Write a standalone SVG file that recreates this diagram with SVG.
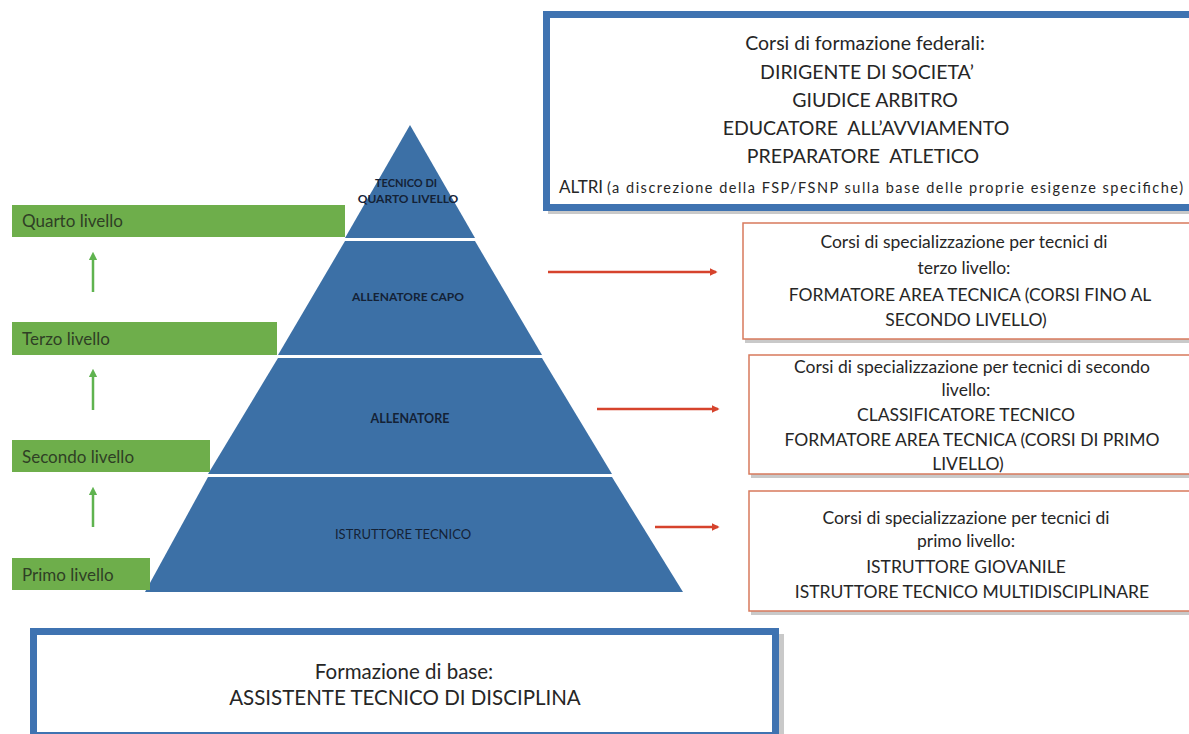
<svg xmlns="http://www.w3.org/2000/svg" width="1189" height="734" viewBox="0 0 1189 734">
<defs>
<style>
.t{font-family:Lato,"Liberation Sans",sans-serif;fill:#262626;text-anchor:middle;white-space:pre}
.big{font-size:19.5px}
.mid{font-size:17.5px}
.sm{font-size:14.5px}
.lvl{font-family:Lato,"Liberation Sans",sans-serif;font-size:17px;fill:#2f3f25}
.pyr{font-family:Lato,"Liberation Sans",sans-serif;font-size:12px;font-weight:bold;fill:#142236;text-anchor:middle}
.green{fill:#6eae4b}
.tier{fill:#3c70a6}
.bluebox{fill:#fff;stroke:#3f73b1;stroke-width:7}
.redbox{fill:#fff;stroke:#d77a5c;stroke-width:1.5}
.shadow{fill:#c9c9c9}
.garr{stroke:#5fb34f;stroke-width:2.5;fill:none}
.rarr{stroke:#d6432c;stroke-width:2.5;fill:none}
</style>
<marker id="ga" viewBox="0 0 10 10" refX="5" refY="5" markerWidth="3.4" markerHeight="3.4" orient="auto"><path d="M0,0L10,5L0,10z" fill="#5fb34f"/></marker>
<marker id="ra" viewBox="0 0 10 10" refX="8" refY="5" markerWidth="3.2" markerHeight="3.2" orient="auto"><path d="M0,0L10,5L0,10z" fill="#d6432c"/></marker>
</defs>
<rect width="1189" height="734" fill="#fff"/>

<g id="top-box">
<rect class="shadow" x="548" y="18" width="650" height="196"/>
<rect class="bluebox" x="546.5" y="14.5" width="650" height="193"/>
<text class="t big" x="865" y="50">Corsi di formazione federali:</text>
<text class="t big" x="867" y="79">DIRIGENTE DI SOCIETA’</text>
<text class="t big" x="875" y="107">GIUDICE ARBITRO</text>
<text class="t big" x="866" y="135">EDUCATORE  ALL’AVVIAMENTO</text>
<text class="t big" x="863" y="163">PREPARATORE  ATLETICO</text>
<text class="t" x="559" y="193" style="text-anchor:start;font-size:17px">ALTRI</text>
<text class="t sm" x="607" y="193" style="text-anchor:start" textLength="576" lengthAdjust="spacing">(a discrezione della FSP/FSNP sulla base delle proprie esigenze specifiche)</text>
</g>

<g id="pyramid">
<polygon class="tier" points="410,125 475,238 345,238"/>
<polygon class="tier" points="345,241 475,241 542,355 278,355"/>
<polygon class="tier" points="278,358 542,358 612,474 208,474"/>
<polygon class="tier" points="208,477 612,477 683,592 145,592"/>
<text class="pyr" x="406" y="187" style="font-size:11px">TECNICO DI</text>
<text class="pyr" x="408" y="203">QUARTO LIVELLO</text>
<text class="pyr" x="408" y="301">ALLENATORE  CAPO</text>
<text class="pyr" x="410" y="423" style="font-size:12.5px">ALLENATORE</text>
<text class="pyr" x="403" y="539" style="font-weight:normal;font-size:13px">ISTRUTTORE TECNICO</text>
</g>

<g id="level-4"><rect class="green" x="12" y="205" width="333" height="32"/><text class="lvl" x="22" y="227">Quarto livello</text></g>
<g id="level-3"><rect class="green" x="12" y="322" width="265" height="33"/><text class="lvl" x="22" y="345">Terzo livello</text></g>
<g id="level-2"><rect class="green" x="12" y="440" width="198" height="32"/><text class="lvl" x="22" y="463">Secondo livello</text></g>
<g id="level-1"><rect class="green" x="12" y="558" width="138" height="32"/><text class="lvl" x="22" y="581">Primo livello</text></g>

<g id="spec-3">
<rect class="shadow" x="745" y="226" width="450" height="117"/>
<rect class="redbox" x="743" y="223" width="450" height="116"/>
<text class="t mid" x="964" y="248">Corsi di specializzazione per tecnici di</text>
<text class="t mid" x="964" y="274">terzo livello:</text>
<text class="t mid" x="970" y="301">FORMATORE AREA TECNICA (CORSI FINO AL</text>
<text class="t mid" x="966" y="326">SECONDO LIVELLO)</text>
</g>

<g id="spec-2">
<rect class="shadow" x="751" y="358" width="444" height="120"/>
<rect class="redbox" x="749" y="355" width="444" height="119"/>
<text class="t mid" x="972" y="373">Corsi di specializzazione per tecnici di secondo</text>
<text class="t mid" x="966" y="396">livello:</text>
<text class="t mid" x="966" y="421">CLASSIFICATORE TECNICO</text>
<text class="t mid" x="972" y="446">FORMATORE AREA TECNICA (CORSI DI PRIMO</text>
<text class="t mid" x="968" y="470">LIVELLO)</text>
</g>

<g id="spec-1">
<rect class="shadow" x="751" y="494" width="444" height="121"/>
<rect class="redbox" x="749" y="491" width="444" height="120"/>
<text class="t mid" x="966" y="524">Corsi di specializzazione per tecnici di</text>
<text class="t mid" x="966" y="547">primo livello:</text>
<text class="t mid" x="966" y="573">ISTRUTTORE GIOVANILE</text>
<text class="t mid" x="972" y="598">ISTRUTTORE TECNICO MULTIDISCIPLINARE</text>
</g>

<g id="base-box">
<rect class="shadow" x="36" y="634" width="748" height="106"/>
<rect class="bluebox" x="33.5" y="631.5" width="742" height="104"/>
<text class="t" x="404" y="679" style="font-size:20.5px">Formazione di base:</text>
<text class="t" x="405" y="705" style="font-size:20.5px">ASSISTENTE TECNICO DI DISCIPLINA</text>
</g>

<g id="connectors">
<line class="garr" x1="93" y1="292" x2="93" y2="256" marker-end="url(#ga)"/>
<line class="garr" x1="93" y1="410" x2="93" y2="373" marker-end="url(#ga)"/>
<line class="garr" x1="93" y1="527" x2="93" y2="491" marker-end="url(#ga)"/>
<line class="rarr" x1="548" y1="272" x2="716" y2="272" marker-end="url(#ra)"/>
<line class="rarr" x1="597" y1="409" x2="718" y2="409" marker-end="url(#ra)"/>
<line class="rarr" x1="655" y1="527" x2="718" y2="527" marker-end="url(#ra)"/>
</g>
</svg>
